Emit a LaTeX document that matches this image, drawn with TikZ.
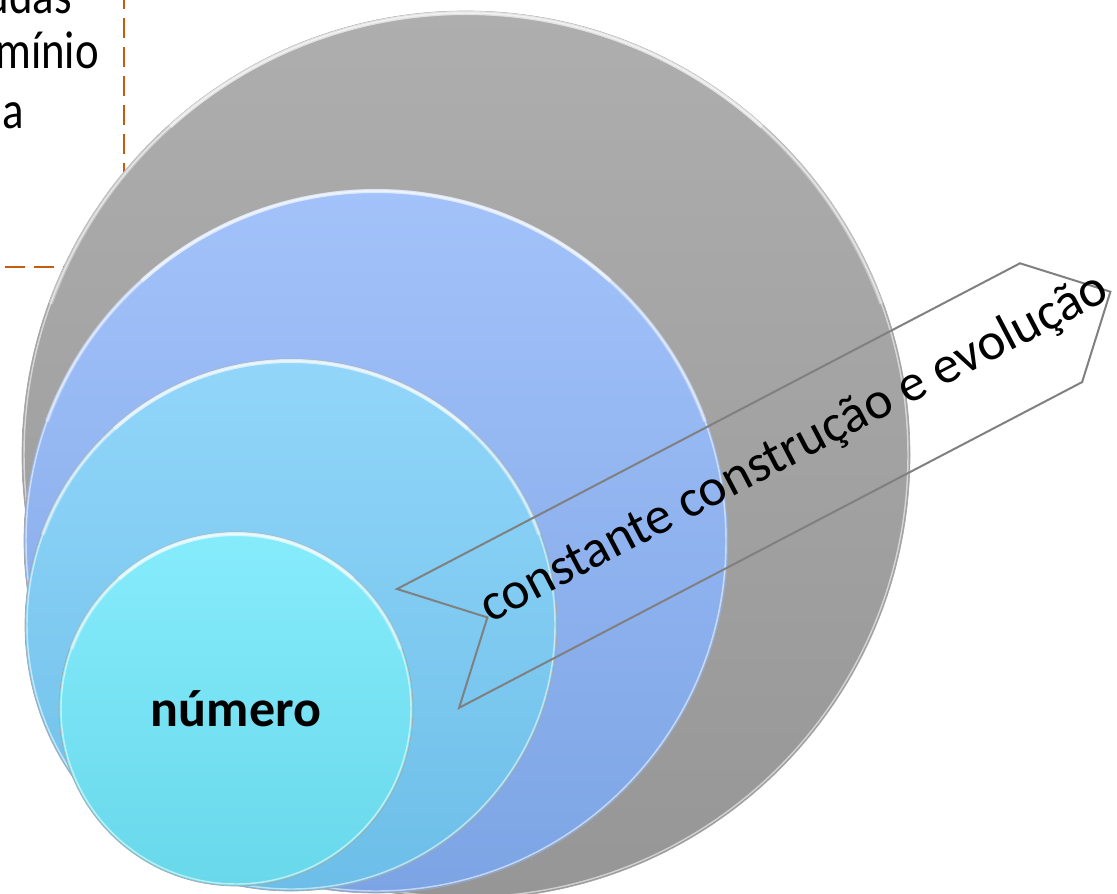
\documentclass[tikz,border=0pt]{standalone}
\usepackage{fontspec}
\setmainfont{Carlito}
\definecolor{dashorange}{RGB}{197,90,17}
\definecolor{grayT}{RGB}{174,174,174}
\definecolor{grayB}{RGB}{150,150,150}
\definecolor{blueT}{RGB}{163,194,250}
\definecolor{blueB}{RGB}{124,164,228}
\definecolor{lblueT}{RGB}{146,214,250}
\definecolor{lblueB}{RGB}{108,190,232}
\definecolor{cyanT}{RGB}{134,236,252}
\definecolor{cyanB}{RGB}{104,216,234}
\definecolor{chevgray}{RGB}{128,128,128}
\newcommand{\rimlight}[3]{%
  \draw[white, opacity=.55, line width=1.1pt] (#1,#2) circle (#3);
  \draw[white, opacity=.35, line width=3pt] (#1,#2) ++(200:#3) arc (200:340:#3);
  \draw[white, opacity=.45, line width=3pt] (#1,#2) ++(228:#3) arc (228:312:#3);
}
\begin{document}
\begin{tikzpicture}[x=0.75pt,y=-0.75pt,
  ring/.style={circle, inner sep=0pt, draw=black!35, line width=0.5pt},
  boxline/.style={draw=dashorange, line width=1.5pt, dash pattern=on 15pt off 6.75pt},
  chev/.style={draw=chevgray, line width=1.5pt, line join=miter},
  lbl/.style={inner sep=0pt, xscale=0.84, font=\fontsize{40}{48}\selectfont}]
\useasboundingbox (0,0) rectangle (1117,893);
\clip (0,0) rectangle (1117,893);
% dashed text box (behind the circles)
\draw[boxline] (124,-40) -- (124,267) -- (-40,267);
\node[lbl, anchor=base east] (t1) at (72,13) {udas};
\node[lbl, anchor=base east] (t2) at (99,68) {mínio};
\node[lbl, anchor=base east] (t3) at (24,128) {a};
% stacked circles
\node[ring, minimum size=666pt, top color=grayT, bottom color=grayB] (outer) at (466,455) {};
\rimlight{466}{455}{442}
\node[ring, minimum size=528pt, top color=blueT, bottom color=blueB] (second) at (376,541) {};
\rimlight{376}{541}{350}
\node[ring, minimum size=399pt, top color=lblueT, bottom color=lblueB] (third) at (291,625) {};
\rimlight{291}{625}{264}
\node[ring, minimum size=265.5pt, top color=cyanT, bottom color=cyanB] (inner) at (236,709) {};
\rimlight{236}{709}{175}
\node[inner sep=0pt, font=\fontsize{39}{47}\selectfont\bfseries] (num) at (236,709) {número};
% chevron
\coordinate (c0) at (397,589);
\coordinate (c1) at (487.4,617.4);
\coordinate (c2) at (459.1,707.8);
\coordinate (c3) at (1082.1,382.1);
\coordinate (c4) at (1110.4,291.7);
\coordinate (c5) at (1020,263.3);
\draw[chev] (c0) -- (c1) -- (c2) -- (c3) -- (c4) -- (c5) -- cycle;
\node[inner sep=0pt, anchor=base, rotate=27.6, font=\fontsize{39.6}{47}\selectfont] (arrowtext) at (801,461) {constante construção e evolução};
\end{tikzpicture}
\end{document}
